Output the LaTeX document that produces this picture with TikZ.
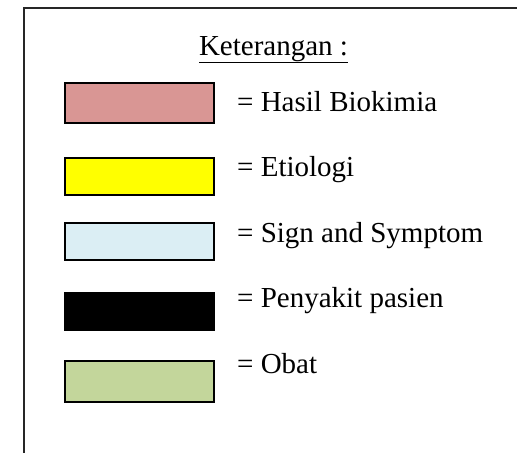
\documentclass[tikz,border=0pt]{standalone}
\usepackage{fontspec}
\setmainfont{Liberation Serif}
\definecolor{cpink}{HTML}{D99694}
\definecolor{cyell}{HTML}{FFFF00}
\definecolor{cblue}{HTML}{DBEEF4}
\definecolor{cgreen}{HTML}{C3D69B}
\tikzset{
  legbox/.style={draw=black, line width=1.6pt, minimum width=149pt, inner sep=0pt, rectangle},
  legtext/.style={anchor=base west, inner sep=0pt, font=\fontsize{29}{34}\selectfont},
  frameline/.style={line width=1.6pt, draw=black!85}
}
\begin{document}
\begin{tikzpicture}[x=1pt,y=-1pt]
\useasboundingbox (0,0) rectangle (517,453);
\draw[frameline] (517,8) -- (24,8) -- (24,453);
\node[legtext, anchor=base] (title) at (273.5,55) {\underline{Keterangan :}};
\node[legbox, fill=cpink, minimum height=40pt] (b1) at (139.5,103) {};
\node[legbox, fill=cyell, minimum height=37pt] (b2) at (139.5,176.5) {};
\node[legbox, fill=cblue, minimum height=37pt] (b3) at (139.5,241.5) {};
\node[legbox, fill=black, minimum height=37pt] (b4) at (139.5,311.5) {};
\node[legbox, fill=cgreen, minimum height=41pt] (b5) at (139.5,381.5) {};
\node[legtext] (t1) at (237,111) {= Hasil Biokimia};
\node[legtext] (t2) at (237,176.5) {= Etiologi};
\node[legtext] (t3) at (237,242) {= Sign and Symptom};
\node[legtext] (t4) at (237,307) {= Penyakit pasien};
\node[legtext] (t5) at (237,373) {= Obat};
\end{tikzpicture}
\end{document}
